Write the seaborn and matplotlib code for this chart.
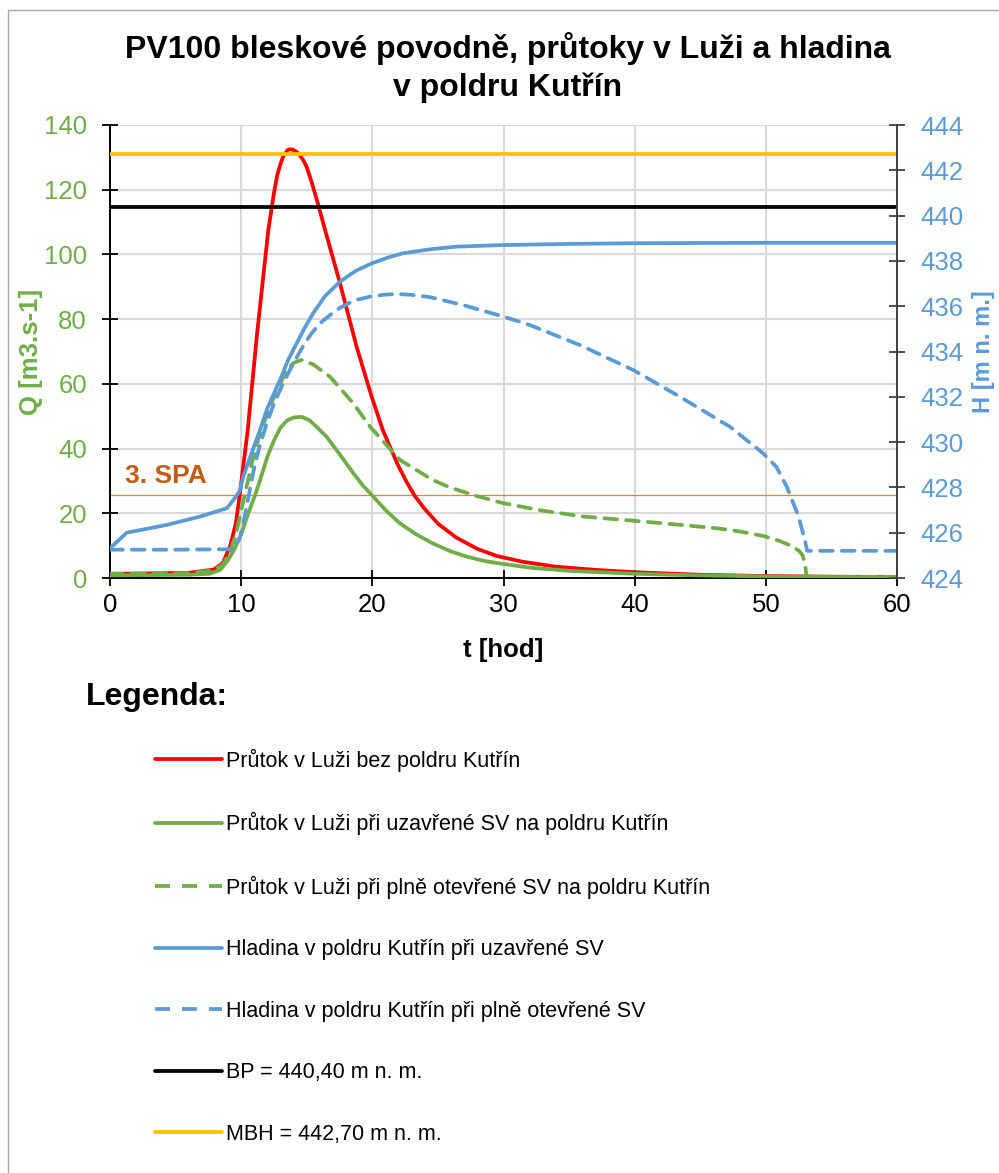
import matplotlib
matplotlib.use("Agg")
import matplotlib.pyplot as plt
import seaborn as sns
import pandas as pd
from matplotlib.lines import Line2D
from matplotlib.patches import Rectangle

sns.set_theme(style="white")
plt.rcParams["font.family"] = ["Liberation Sans", "DejaVu Sans"]
plt.rcParams["text.color"] = "black"

# ---------------- data ----------------
t_bez = [0, 3, 6, 7.9, 8.6, 9.15, 9.6, 9.9, 10.5, 11.2, 11.6, 12.07, 12.5, 12.75, 13.0, 13.2,
         13.55, 13.72, 13.9, 14.1, 14.3, 14.5, 14.75, 15.0, 15.4, 15.9, 16.4, 17.5, 18.8, 19.95,
         20.8, 21.34, 22.0, 22.6, 23.2, 23.9, 25.0, 26.4, 28.0, 29.5, 31.5, 34.0, 37.0, 40.0,
         45.0, 50.0, 55.0, 60.0]
q_bez = [1.3, 1.4, 1.6, 2.6, 4.6, 9.7, 17, 26, 45.7, 75, 90, 107.5, 119, 124.5, 128, 130.3,
         132.3, 132.5, 132.4, 132, 131.5, 130.5, 129, 127, 122, 115, 107.5, 91.6, 71.5, 56,
         45.7, 40.6, 34.5, 29.8, 25.6, 21.8, 16.8, 12.5, 9.0, 6.8, 5.0, 3.5, 2.5, 1.8,
         1.0, 0.6, 0.4, 0.3]

t_zav = [0, 3, 6, 7.6, 8.4, 9.0, 9.5, 10.0, 10.5, 11.05, 11.5, 12.0, 12.5, 13.0, 13.5, 14.0,
         14.6, 15.2, 15.8, 16.5, 17.5, 18.55, 19.3, 20.0, 21.0, 22.1, 23.3, 24.6, 26.0, 27.2,
         28.5, 29.7, 32.0, 35.0, 40.0, 45.0, 50.0, 55.0, 60.0]
q_zav = [0.8, 0.9, 1.0, 1.3, 2.5, 5.5, 9.0, 13.5, 19.5, 25.5, 31.0, 37.5, 42.5, 46.5, 48.7, 49.6,
         49.8, 48.8, 46.5, 43.7, 38.3, 32.4, 28.5, 25.5, 21.0, 16.9, 13.6, 10.7, 8.2, 6.6,
         5.3, 4.5, 3.2, 2.2, 1.3, 0.8, 0.5, 0.3, 0.2]

t_otv = [0, 3, 6, 7.9, 8.6, 9.15, 9.6, 9.9, 10.4, 10.9, 11.43, 12.45, 13.47, 14.0, 14.6, 15.5,
         16.77, 18.55, 19.82, 22.1, 24.6, 25.9, 27.9, 30.0, 33.0, 36.1, 39.9, 43.0, 46.2, 48.0,
         49.8, 51.0, 51.8, 52.5, 52.8, 53.0, 53.1, 55.0, 60.0]
q_otv = [1.3, 1.4, 1.5, 2.4, 4.2, 8.0, 13.5, 19.0, 28.0, 37.0, 44.7, 55.5, 64.3, 66.5, 67.4, 66.0,
         62.2, 54.0, 46.8, 36.5, 30.3, 28.0, 25.4, 23.1, 20.8, 19.0, 17.7, 16.6, 15.4, 14.4,
         13.0, 11.5, 10.2, 8.5, 7.1, 4.0, 0.5, 0.4, 0.3]

t_h_zav = [0, 1.27, 4.3, 6.86, 8.9, 9.4, 9.9, 10.16, 10.6, 11.43, 12.0, 12.96, 13.6, 14.23, 14.8,
           15.5, 16.4, 17.53, 18.7, 19.95, 21.2, 22.36, 24.39, 26.4, 30.0, 35.0, 40.0, 50.0, 60.0]
h_zav = [425.31, 426.0, 426.34, 426.71, 427.08, 427.44, 427.85, 428.47, 429.2, 430.53, 431.5,
         432.74, 433.65, 434.36, 435.0, 435.7, 436.45, 437.08, 437.55, 437.89, 438.15, 438.34,
         438.51, 438.63, 438.70, 438.75, 438.78, 438.80, 438.80]

t_h_otv = [0, 5, 9.4, 9.9, 10.16, 10.5, 10.93, 11.44, 11.94, 12.5, 13.2, 14.0, 14.73, 15.3, 16.0,
           16.8, 17.53, 18.6, 19.8, 20.8, 21.85, 23.0, 24.4, 26.93, 30.0, 32.0, 35.8, 39.9, 43.45,
           47.26, 49.8, 50.8, 51.6, 52.5, 53.0, 53.15, 56.0, 60.0]
h_otv = [425.25, 425.25, 425.27, 425.8, 426.4, 427.4, 428.7, 429.9, 430.8, 431.7, 432.6, 433.5,
         434.25, 434.75, 435.24, 435.62, 435.93, 436.25, 436.42, 436.5, 436.54, 436.5, 436.4,
         436.05, 435.54, 435.17, 434.29, 433.18, 432.0, 430.68, 429.5, 428.91, 428.03, 426.71,
         425.6, 425.2, 425.2, 425.2]

BP = 440.40
MBH = 442.70
SPA3 = 25.5

x_ticks = [0, 10, 20, 30, 40, 50, 60]
q_ticks = [0, 20, 40, 60, 80, 100, 120, 140]
h_ticks = [424, 426, 428, 430, 432, 434, 436, 438, 440, 442, 444]

labels = [
    "Průtok v Luži bez poldru Kutřín",
    "Průtok v Luži při uzavřené SV na poldru Kutřín",
    "Průtok v Luži při plně otevřené SV na poldru Kutřín",
    "Hladina v poldru Kutřín při uzavřené SV",
    "Hladina v poldru Kutřín při plně otevřené SV",
    "BP = 440,40 m n. m.",
    "MBH = 442,70 m n. m.",
]
title = "PV100 bleskové povodně, průtoky v Luži a hladina\nv poldru Kutřín"

# ---------------- style ----------------
RED = "#FF0000"
GREEN = "#70AD47"
BLUE = "#5B9BD5"
YELLOW = "#FFC000"
BLACK = "#000000"
SPA_LINE = "#ED7D31"
SPA_TEXT = "#C55A11"
GRID = "#D9D9D9"
LW = 2.7
DASH = (0, (3.4, 2.4))

W, H = 999, 1173
fig = plt.figure(figsize=(W / 100, H / 100), dpi=100)
fig.patch.set_facecolor("white")

L, R, T, B = 110, 897, 125, 578
ax = fig.add_axes([L / W, 1 - B / H, (R - L) / W, (B - T) / H])
ax2 = ax.twinx()

# Q series (left axis)
ax.axhline(SPA3, color=SPA_LINE, lw=0.9, zorder=2)
sns.lineplot(x=t_bez, y=q_bez, ax=ax, color=RED, lw=LW, zorder=3)
sns.lineplot(x=t_otv, y=q_otv, ax=ax, color=GREEN, lw=LW, linestyle=DASH,
             dash_capstyle="round", zorder=3)
sns.lineplot(x=t_zav, y=q_zav, ax=ax, color=GREEN, lw=LW, zorder=4)

# H series (right axis)
sns.lineplot(x=t_h_zav, y=h_zav, ax=ax2, color=BLUE, lw=LW)
sns.lineplot(x=t_h_otv, y=h_otv, ax=ax2, color=BLUE, lw=LW, linestyle=DASH,
             dash_capstyle="round")
ax2.axhline(BP, color=BLACK, lw=LW)
ax2.axhline(MBH, color=YELLOW, lw=LW)

ax.set_xlim(0, 60)
ax.set_ylim(0, 140)
ax2.set_ylim(424, 444)
ax.set_xticks(x_ticks)
ax.set_yticks(q_ticks)
ax2.set_yticks(h_ticks)
ax.set_xticklabels([str(v) for v in x_ticks])
ax.set_yticklabels([str(v) for v in q_ticks])
ax2.set_yticklabels([str(v) for v in h_ticks])

ax.grid(True, color=GRID, lw=1.5)
ax.set_axisbelow(True)
ax2.grid(False)

for s in ["top", "right"]:
    ax.spines[s].set_visible(False)
for s in ["top", "left", "bottom"]:
    ax2.spines[s].set_visible(False)
ax.spines["left"].set_color(BLACK)
ax.spines["left"].set_linewidth(1.4)
ax.spines["bottom"].set_color(BLACK)
ax.spines["bottom"].set_linewidth(1.4)
ax2.spines["right"].set_color("#404040")
ax2.spines["right"].set_linewidth(1.4)

ax.tick_params(axis="y", direction="inout", length=11, width=1.3, color=BLACK,
               labelcolor=GREEN, labelsize=18.5, pad=11, left=True)
ax.tick_params(axis="x", direction="inout", length=11, width=1.3, color=BLACK,
               labelcolor=BLACK, labelsize=18.5, pad=5, bottom=True)
ax2.tick_params(axis="y", direction="inout", length=11, width=1.3, color="#404040",
                labelcolor=BLUE, labelsize=18.5, pad=11, right=True)

ax.set_xlabel("t [hod]", fontsize=18.5, fontweight="bold", color=BLACK)
ax.xaxis.set_label_coords(0.5, (B - 638) / (B - T))
ax.set_ylabel("Q [m3.s-1]", fontsize=18.5, fontweight="bold", color=GREEN)
ax.yaxis.set_label_coords((43 - L) / (R - L), 0.5)
ax2.set_ylabel("H [m n. m.]", fontsize=17, fontweight="bold", color=BLUE)
ax2.yaxis.set_label_coords((972 - L) / (R - L), 0.5)

ax.text(1.14, 31.5, "3. SPA", color=SPA_TEXT, fontsize=19, fontweight="bold",
        ha="left", va="center")

fig.text(508 / W, 1 - 67.5 / H, title, ha="center", va="center",
         fontsize=23, fontweight="bold", color=BLACK, linespacing=1.28)

fig.text(86 / W, 1 - 697 / H, "Legenda:", ha="left", va="center",
         fontsize=23, fontweight="bold", color=BLACK)

handles = [
    Line2D([], [], color=RED, lw=LW),
    Line2D([], [], color=GREEN, lw=LW),
    Line2D([], [], color=GREEN, lw=LW, linestyle=(0, (4.0, 3.2))),
    Line2D([], [], color=BLUE, lw=LW),
    Line2D([], [], color=BLUE, lw=LW, linestyle=(0, (4.0, 3.2))),
    Line2D([], [], color=BLACK, lw=LW),
    Line2D([], [], color=YELLOW, lw=LW),
]
leg = fig.legend(handles, labels, loc="upper left", bbox_to_anchor=(155 / W, 1 - 748.5 / H),
                 frameon=False, fontsize=15.5, handlelength=3.11, handletextpad=0.19,
                 labelspacing=1.88, borderpad=0, borderaxespad=0)
for txt in leg.get_texts():
    txt.set_color(BLACK)

fig.patches.append(Rectangle((8 / W, -0.1), 1.2, 1.1 - 10 / H, transform=fig.transFigure,
                             fill=False, ec="#A6A6A6", lw=1.0))

fig.savefig("out.png", dpi=100)
